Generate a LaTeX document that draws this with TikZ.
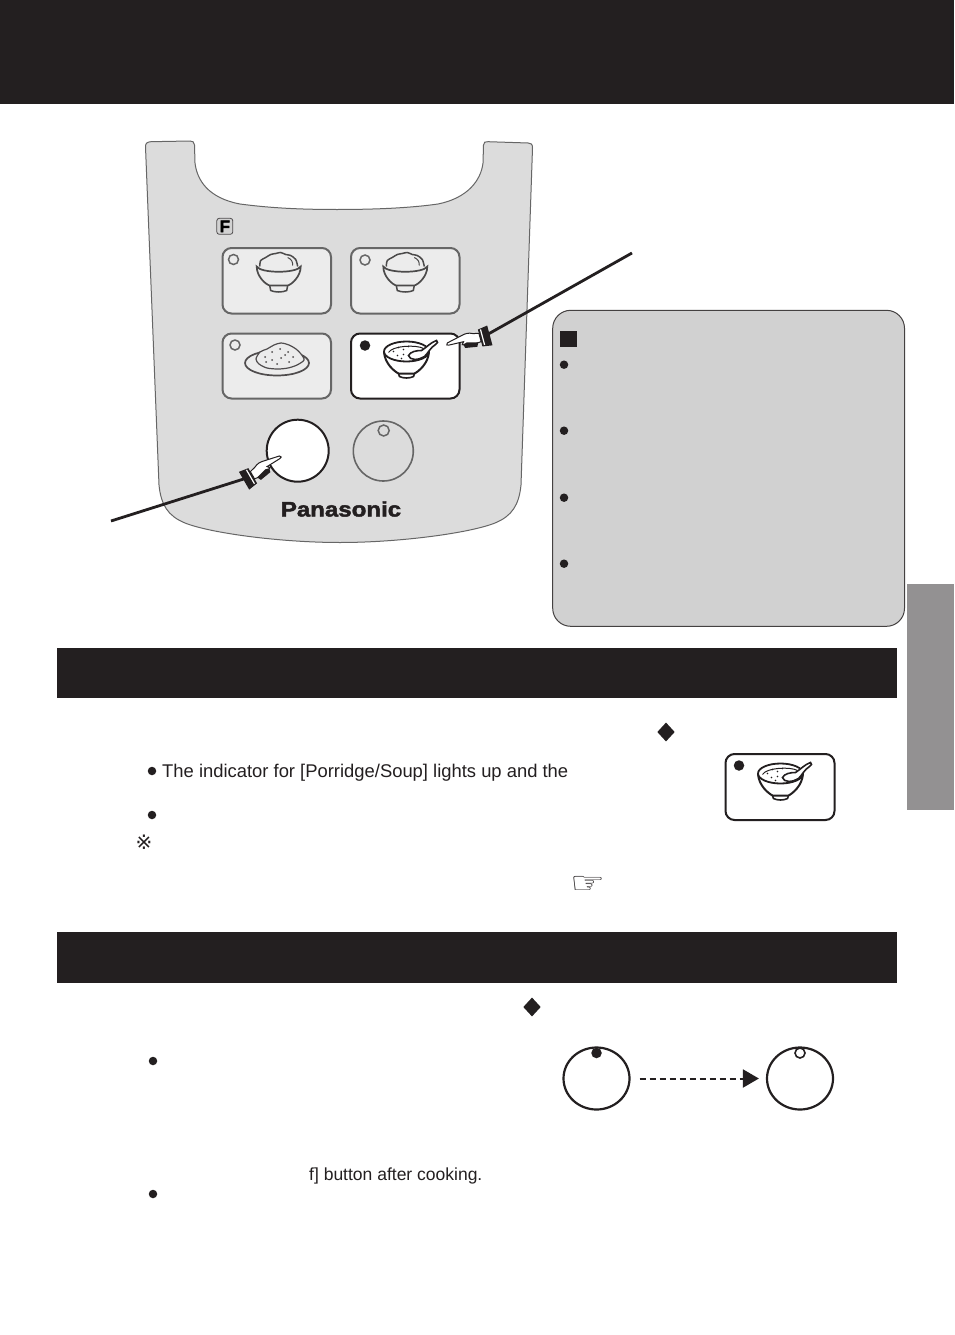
\documentclass[tikz,border=0pt]{standalone}
\usepackage{fontspec}
\setmainfont{Liberation Sans}
\newfontfamily\symfont{DejaVu Sans}
\newfontfamily\logofont[FakeBold=2]{Liberation Sans Bold}
\usetikzlibrary{shapes.geometric,arrows.meta}
\definecolor{ink}{HTML}{231F20}
\definecolor{panelgrey}{HTML}{DCDCDC}
\definecolor{cardgrey}{HTML}{ECECEC}
\definecolor{boxgrey}{HTML}{D1D1D1}
\definecolor{tabgrey}{HTML}{939192}
\definecolor{edgegrey}{HTML}{666666}
\tikzset{
  bar/.style={fill=ink,draw=none},
  card/.style={rounded corners=9pt,line width=2pt,draw=edgegrey,fill=cardgrey},
  activecard/.style={rounded corners=9pt,line width=2pt,draw=ink,fill=white},
  bulletdot/.style={circle,fill=ink,draw=none,inner sep=0pt,minimum size=8.5pt},
  ledoff/.style={circle,draw=edgegrey,line width=1.5pt,fill=cardgrey,inner sep=0pt,minimum size=10pt},
  ledon/.style={circle,draw=none,fill=ink,inner sep=0pt,minimum size=10.5pt},
  leader/.style={draw=ink,line width=2.8pt},
  body/.style={inner sep=0pt,anchor=base west,text=ink},
  gem/.style={diamond,aspect=.92,fill=ink,draw=none,inner sep=0pt,minimum width=17.5pt,minimum height=19pt},
  dial/.style={ellipse,draw=ink,line width=2.2pt,fill=white,inner sep=0pt,minimum width=66pt,minimum height=62pt},
  ricebowl/.pic={
    \draw[line width=1.5pt,draw=#1,fill=cardgrey] (-9,19) -- (-8,24) .. controls (-4,26) and (4,26) .. (8,24) -- (9,19);
    \draw[line width=1.5pt,draw=#1,fill=cardgrey] plot[smooth] coordinates {(-19,0) (-18,-6) (-13,-9) (-8,-12) (-3,-13) (2,-14) (7,-12) (12,-11) (17,-7) (19,0)};
    \draw[line width=1.7pt,draw=#1,fill=cardgrey] (-22,0) .. controls (-22,10) and (-13,18) .. (-9,19) -- (9,19) .. controls (13,18) and (22,10) .. (22,0) .. controls (18,7) and (-18,7) .. (-22,0) -- cycle;
    \draw[line width=1pt,draw=#1] (9,-9) .. controls (13,-7) and (14,-5) .. (14,-1);
  },
  soupbowl/.pic={
    \draw[line width=1.6pt,draw=ink,fill=white] (-8,22) -- (-7,25) .. controls (-3,27) and (3,27) .. (7,25) -- (8,22);
    \draw[line width=2pt,draw=ink,fill=white] (-22.5,0) .. controls (-22,12) and (-12,20) .. (-8,22) -- (8,22) .. controls (12,20) and (22,12) .. (22.5,0);
    \draw[line width=1.8pt,draw=ink,fill=white] (0,0) ellipse (22.5pt and 10pt);
    \draw[line width=1pt,draw=ink] (-18,1) .. controls (-14,-6) and (10,-7) .. (17,-3);
    \foreach \p in {(-13,0),(-8,-4),(-3,-2),(-9,4),(-3,3),(2,-5),(-5,7)}
      \fill[ink] \p circle (.8pt);
    \draw[line width=1.6pt,draw=ink,fill=white] (2,4) .. controls (4,0) and (10,-1) .. (15,-1) .. controls (20,-4) and (24,-9) .. (30,-11) .. controls (32,-10) and (31,-8) .. (29,-7) .. controls (24,-4) and (22,1) .. (18,5) .. controls (12,9) and (3,9) .. (2,4) -- cycle;
  },
  hand/.pic={
    \fill[ink] (-7,-10) -- (3,-8.5) -- (3,9) -- (-7,10.5) -- cycle;
    \draw[white,line width=1.2pt] (0.5,-8) -- (0.5,8);
    \draw[ink,line width=1pt,fill=white] (3,-4.5) -- (9,-6) .. controls (13,-8) and (16,-8) .. (20,-7) -- (36,-3.5) .. controls (38,-2) and (37,-1) .. (35,-1) -- (20,-0.5) -- (22,2) -- (16,5) -- (3,4) -- cycle;
    \fill[ink] (6,4) -- (17,1) -- (21,2) -- (20,6) -- (8,8) -- cycle;
  },
}
\begin{document}
\begin{tikzpicture}[x=1pt,y=-1pt,line cap=butt]
\useasboundingbox (0,0) rectangle (954,1335);
\fill[white] (0,0) rectangle (954,1335);
% bands
\path[bar] (0,0) rectangle (954,104);
\path[bar] (57,648) rectangle (897,698);
\path[bar] (57,932) rectangle (897,983);
\fill[tabgrey] (907,584) rectangle (954,810);
% panel
\draw[draw=edgegrey,line width=1pt,fill=panelgrey]
  (145.5,147) .. controls (145.5,143) and (147,142) .. (151,141.7) -- (190,141)
  .. controls (193,141) and (194,142) .. (194.5,145) -- (195,163)
  .. controls (197,180) and (208,198) .. (240,204)
  .. controls (270,208) and (300,209.5) .. (337,209.5)
  .. controls (375,209.5) and (410,208) .. (438,204)
  .. controls (468,198) and (481,180) .. (483,163) -- (483.5,145)
  .. controls (484,142) and (485,141.5) .. (488,141.7) -- (528,143)
  .. controls (531,143) and (532.5,144) .. (532.5,148)
  -- (521,485) .. controls (519,505) and (512,516) .. (495,523)
  .. controls (470,533) and (400,542.5) .. (340,542.5)
  .. controls (280,542.5) and (210,533) .. (185,523)
  .. controls (168,516) and (161,505) .. (159,485)
  -- cycle;
% F mark
\node[rounded corners=2.5pt,draw=ink!80,line width=.8pt,fill=gray!35,minimum size=16pt,inner sep=0pt,font=\fontsize{17}{17}\logofont] (fmark) at (224.8,226.3) {F};
% cards
\draw[card] (222.5,248) rectangle (331,313.5);
\draw[card] (351,248) rectangle (459.5,313.5);
\draw[card] (222.5,333.5) rectangle (331,398.5);
\draw[activecard] (351,333.5) rectangle (459.5,398.5);
\node[ledoff] (led1) at (233.5,259.5) {};
\node[ledoff] (led2) at (365,260) {};
\node[ledoff] (led3) at (235,345) {};
\node[ledon] (led4) at (365,345.5) {};
\pic at (278.7,266.5) {ricebowl=edgegrey!60!ink};
\pic at (405.3,266.5) {ricebowl=edgegrey!60!ink};
% plate
\draw[line width=1.7pt,draw=ink!80,fill=cardgrey] (277,363) ellipse (32pt and 12.5pt);
\draw[line width=1.2pt,draw=ink!80,fill=cardgrey] plot[smooth cycle] coordinates {(256,359) (260,352) (267,349) (274,345) (281,343) (289,345) (296,349) (301,354) (304,360) (297,365) (288,368) (278,369) (267,368) (259,364)};
\foreach \p in {(265,357),(272,352),(280,349),(288,352),(293,357),(272,360),(281,358),(289,362),(277,364),(266,362),(285,355)}
  \fill[ink!80] \p circle (1pt);
% soup
\pic at (406.5,351.5) {soupbowl};
% buttons
\node[circle,draw=ink,line width=2pt,fill=white,inner sep=0pt,minimum size=62pt] (startbtn) at (297.7,450.7) {};
\node[circle,draw=edgegrey,line width=1.6pt,fill=panelgrey,inner sep=0pt,minimum size=60pt] (offbtn) at (383.3,451) {};
\node[ledoff,fill=panelgrey,minimum size=11pt] (offled) at (383.7,430.5) {};
% leaders and hands
\coordinate (leadA) at (111,521);
\coordinate (cuffA) at (250,477);
\coordinate (leadB) at (632,253);
\coordinate (cuffB) at (483,337);
\draw[leader] (leadA) -- (cuffA);
\draw[leader] (leadB) -- (cuffB);
\pic[rotate=30] at (cuffA) {hand};
\pic[rotate=15,xscale=-1] at (cuffB) {hand};
% logo
\node[inner sep=0pt,anchor=base,font=\fontsize{21}{21}\logofont,xscale=1.145,text=ink] (logo) at (341,516.5) {Panasonic};
% grey box
\draw[draw=ink!85,line width=1pt,fill=boxgrey,rounded corners=18pt] (552.7,310.3) rectangle (904.5,626.3);
\fill[ink] (560,331) rectangle (577,347);
\node[bulletdot] (b1) at (564,364.7) {};
\node[bulletdot] (b2) at (564,430.7) {};
\node[bulletdot] (b3) at (564,497.7) {};
\node[bulletdot] (b4) at (564,563.7) {};
% section one
\node[gem] (gemA) at (666,732) {};
\node[bulletdot] (b5) at (152,771) {};
\node[body,font=\fontsize{18.4}{18}\selectfont] (t1) at (162,777) {The indicator for [Porridge/Soup] lights up and the};
\node[bulletdot] (b6) at (152,815) {};
\node[inner sep=0pt,font=\symfont\fontsize{20}{20}\selectfont,text=ink] (ref) at (144,842) {※};
\node[inner sep=0pt,font=\symfont\fontsize{30}{30}\selectfont,text=ink,xscale=1.3] (point) at (588,885) {☞};
\draw[activecard] (725.5,754) rectangle (834.5,820);
\node[ledon] (led5) at (739,765.5) {};
\pic at (780.5,773.5) {soupbowl};
% section two
\node[gem] (gemB) at (532,1007) {};
\node[bulletdot] (b7) at (153,1061) {};
\node[bulletdot] (b8) at (153,1194) {};
\node[body,font=\fontsize{17.5}{17}\selectfont] (t2) at (309,1180) {f] button after cooking.};
\node[dial] (dialA) at (596.5,1078.5) {};
\node[dial] (dialB) at (800,1078.5) {};
\node[ledon] (dotA) at (596.5,1053) {};
\node[circle,draw=ink,line width=1.6pt,fill=white,inner sep=0pt,minimum size=10pt] (dotB) at (800,1053) {};
\draw[ink,line width=2pt,dash pattern=on 6pt off 4pt,-{Triangle[length=16pt,width=18pt]},shorten <=9pt,shorten >=7pt] (dialA) -- (dialB);
\end{tikzpicture}
\end{document}
